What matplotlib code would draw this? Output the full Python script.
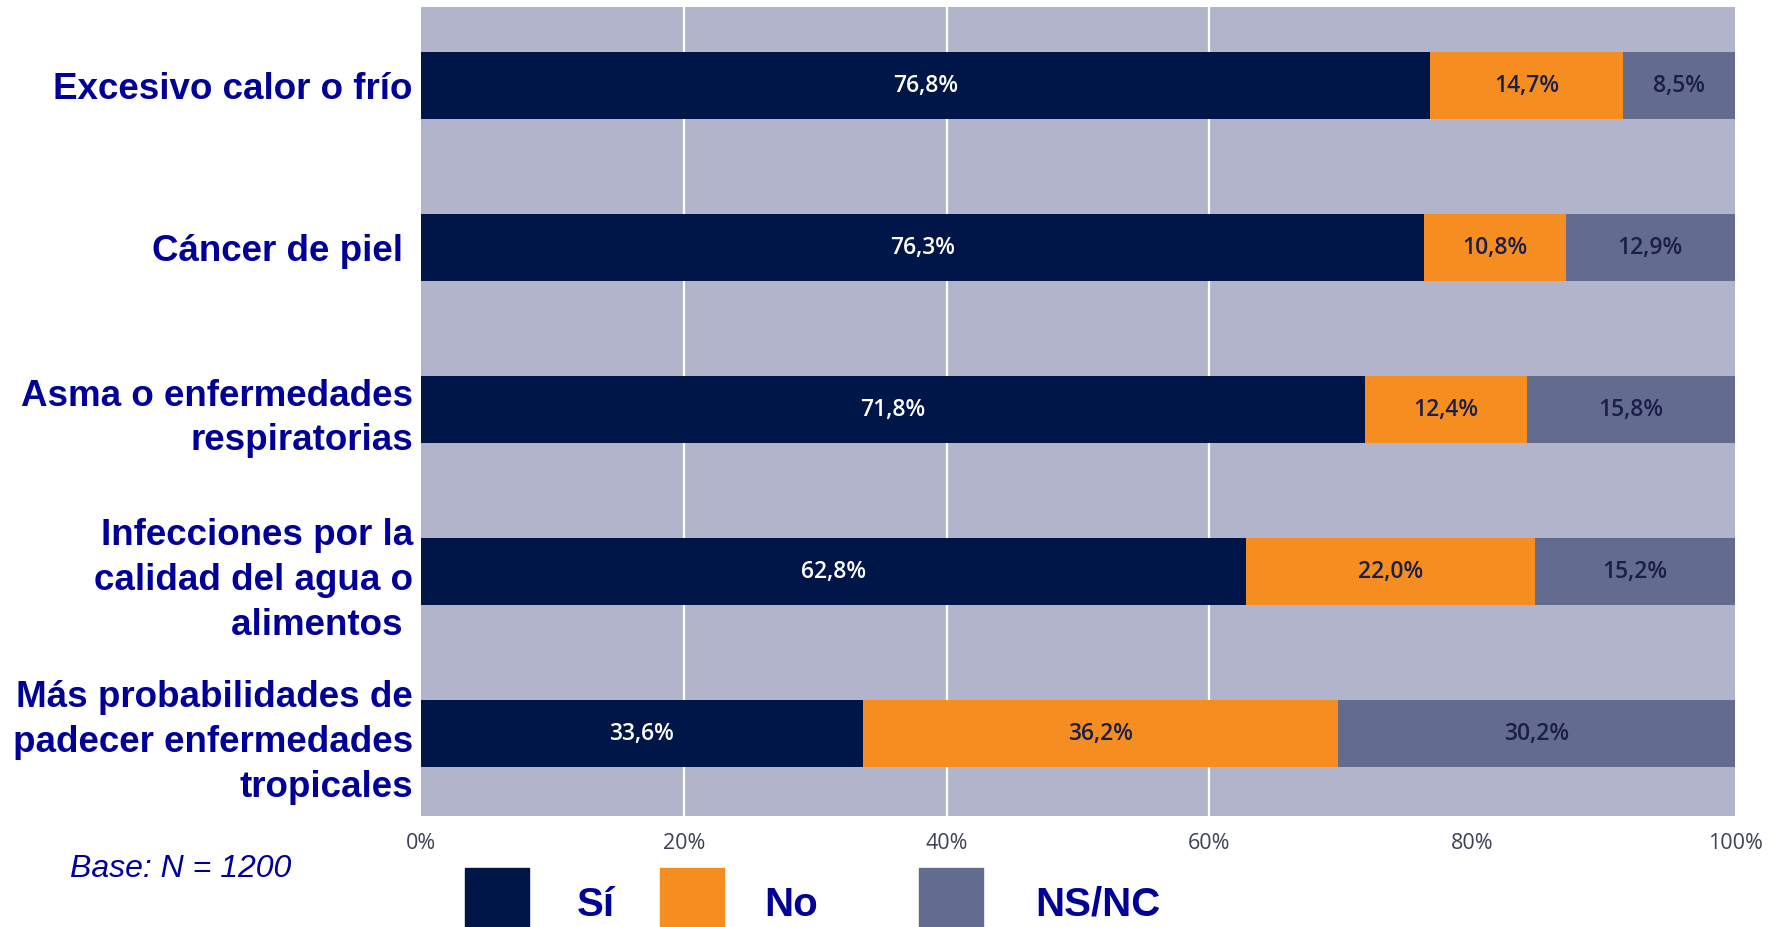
import matplotlib
matplotlib.use("Agg")
import matplotlib.pyplot as plt
from matplotlib.patches import Rectangle
import numpy as np

# data
categories = [
    "Excesivo calor o frío",
    "Cáncer de piel ",
    "Asma o enfermedades\nrespiratorias",
    "Infecciones por la\ncalidad del agua o\nalimentos ",
    "Más probabilidades de\npadecer enfermedades\ntropicales",
]
si = [76.8, 76.3, 71.8, 62.8, 33.6]
no = [14.7, 10.8, 12.4, 22.0, 36.2]
nsnc = [8.5, 12.9, 15.8, 15.2, 30.2]
series_names = ["Sí", "No", "NS/NC"]
x_ticks = [0, 20, 40, 60, 80, 100]
x_ticklabels = ["0%", "20%", "40%", "60%", "80%", "100%"]

navy = "#001548"
orange = "#f58d20"
grey = "#636b8e"
bg = "#b2b4cc"
label_blue = "#000099"

fig = plt.figure(figsize=(17.73, 9.27), dpi=100)
ax = fig.add_axes([0.2375, 0.1197, 0.7411, 0.8727])
ax.set_facecolor(bg)

y = np.arange(len(categories))
left = np.zeros(len(categories))
colors = [navy, orange, grey]
text_colors = ["white", "#1a1f4a", "#1a1f4a"]
for vals, col, tcol in zip([si, no, nsnc], colors, text_colors):
    vals = np.array(vals)
    ax.barh(y, vals, left=left, height=0.41, color=col, zorder=3)
    for yi, l, v in zip(y, left, vals):
        ax.text(l + v / 2, yi, f"{v:.1f}%".replace(".", ","), ha="center", va="center",
                color=tcol, fontsize=16.5, fontweight="semibold",
                family=["Open Sans", "DejaVu Sans"], zorder=4)
    left = left + vals

ax.set_xlim(0, 100)
ax.set_ylim(4.509, -0.485)
for gx in [20, 40, 60]:
    ax.axvline(gx, color="white", lw=1.6, zorder=1)

ax.set_xticks(x_ticks)
ax.set_xticklabels(x_ticklabels, fontsize=15.5, color="#3c4257",
                   family=["Open Sans", "DejaVu Sans"])
ax.set_yticks(y)
ax.set_yticklabels(categories, fontsize=26.5, color=label_blue, fontweight="bold",
                   family=["Liberation Sans", "DejaVu Sans"], linespacing=1.36)
ax.tick_params(axis="x", length=0, pad=12)
ax.tick_params(axis="y", length=0, pad=6)
for s in ax.spines.values():
    s.set_visible(False)

fig.text(70 / 1773, 1 - 869 / 927, "Base: N = 1200", fontsize=23, style="italic",
         color=label_blue, va="center", ha="left", family=["Liberation Sans", "DejaVu Sans"])

# legend drawn by hand
box_x = [465, 660, 919]
text_x = [577, 764, 1035]
for bx, tx, name, col in zip(box_x, text_x, series_names, colors):
    fig.patches.append(Rectangle((bx / 1773, 0), 64 / 1773, 59 / 927,
                                 transform=fig.transFigure, color=col))
    fig.text(tx / 1773, 1 - 905 / 927, name, fontsize=29, fontweight="bold",
             color=label_blue, va="center", ha="left",
             family=["Liberation Sans Narrow", "Liberation Sans", "DejaVu Sans"])

fig.savefig("out.png", dpi=100)
